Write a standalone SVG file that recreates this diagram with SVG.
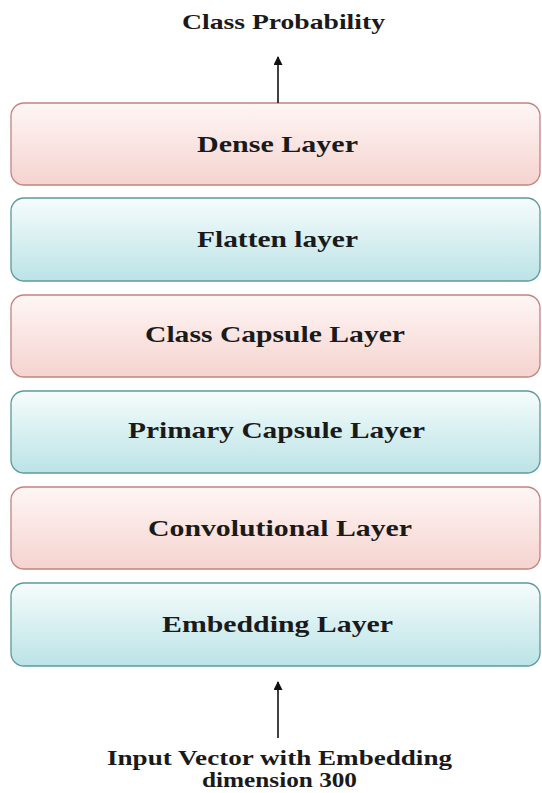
<svg xmlns="http://www.w3.org/2000/svg" width="542" height="793" viewBox="0 0 542 793">
  <defs>
    <linearGradient id="gPink" x1="0" y1="0" x2="0" y2="1">
      <stop offset="0" stop-color="#fef6f5"/>
      <stop offset="1" stop-color="#f5d3cf"/>
    </linearGradient>
    <linearGradient id="gTeal" x1="0" y1="0" x2="0" y2="1">
      <stop offset="0" stop-color="#f6fcfc"/>
      <stop offset="1" stop-color="#bbe3e6"/>
    </linearGradient>
    <marker id="head" viewBox="0 0 10 10" refX="9" refY="5" markerWidth="10" markerHeight="9" markerUnits="userSpaceOnUse" orient="auto">
      <path d="M0,0 L10,5 L0,10 z" fill="#111"/>
    </marker>
  </defs>
  <style>
    .pink { fill: url(#gPink); stroke: #c0847f; stroke-width: 1.3; }
    .teal { fill: url(#gTeal); stroke: #5e999b; stroke-width: 1.3; }
    .lbl { font-family: "Liberation Serif", "Times New Roman", serif; font-weight: bold; font-size: 24px; fill: #1a1a1a; text-anchor: middle; }
    .cap { font-family: "Liberation Serif", "Times New Roman", serif; font-weight: bold; font-size: 21px; fill: #1a1a1a; text-anchor: middle; }
    .arrow { stroke: #111; stroke-width: 1.6; fill: none; }
  </style>

  <rect width="542" height="793" fill="#ffffff"/>

  <text class="cap" x="283.5" y="29" textLength="203" lengthAdjust="spacingAndGlyphs">Class Probability</text>

  <g id="dense">
    <rect class="pink" x="11" y="103" width="529" height="82" rx="13"/>
    <text class="lbl" x="277.5" y="152" textLength="161" lengthAdjust="spacingAndGlyphs">Dense Layer</text>
  </g>
  <g id="flatten">
    <rect class="teal" x="11" y="198" width="529" height="83" rx="13"/>
    <text class="lbl" x="277.5" y="247" textLength="161" lengthAdjust="spacingAndGlyphs">Flatten layer</text>
  </g>
  <g id="class-capsule">
    <rect class="pink" x="11" y="295" width="529" height="82" rx="13"/>
    <text class="lbl" x="275" y="342" textLength="260" lengthAdjust="spacingAndGlyphs">Class Capsule Layer</text>
  </g>
  <g id="primary-capsule">
    <rect class="teal" x="11" y="391" width="529" height="82" rx="13"/>
    <text class="lbl" x="276.5" y="438" textLength="297" lengthAdjust="spacingAndGlyphs">Primary Capsule Layer</text>
  </g>
  <g id="convolutional">
    <rect class="pink" x="11" y="487" width="529" height="82" rx="13"/>
    <text class="lbl" x="280" y="536" textLength="264" lengthAdjust="spacingAndGlyphs">Convolutional Layer</text>
  </g>
  <g id="embedding">
    <rect class="teal" x="11" y="583" width="529" height="83" rx="13"/>
    <text class="lbl" x="277.5" y="632" textLength="231" lengthAdjust="spacingAndGlyphs">Embedding Layer</text>
  </g>

  <g id="connectors">
    <line class="arrow" x1="278" y1="103" x2="278" y2="57" marker-end="url(#head)"/>
    <line class="arrow" x1="278" y1="738" x2="278" y2="682" marker-end="url(#head)"/>
  </g>

  <text class="cap" x="279.5" y="765" textLength="345" lengthAdjust="spacingAndGlyphs">Input Vector with Embedding</text>
  <text class="cap" x="279.5" y="787" textLength="155" lengthAdjust="spacingAndGlyphs">dimension 300</text>
</svg>
